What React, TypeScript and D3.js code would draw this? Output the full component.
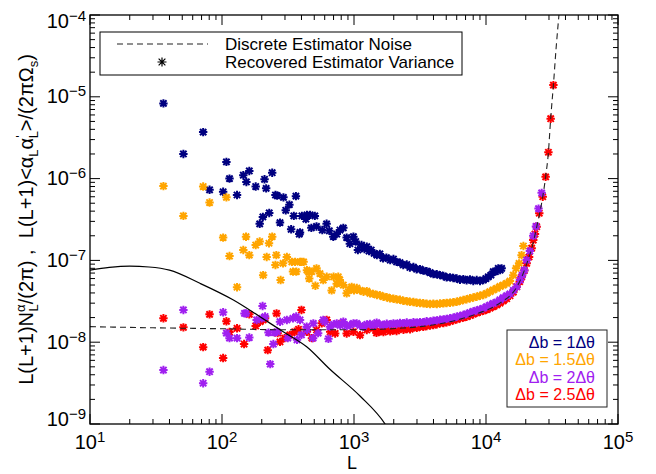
import { useRef, useEffect } from 'react';
import * as d3 from 'd3';

type Pt = [number, number];

// recovered estimator variance, one list per bin width
const navy: Pt[] = [
  [36, 8.3e-6], [51, 2.0e-6], [72, 3.7e-6], [80.5, 7.3e-7], [102, 6.9e-7], [108, 1.6e-6], [114, 1.0e-6],
  [130, 6.3e-7], [145, 1.1e-6], [153, 9.1e-7], [161, 1.24e-6], [180, 8.0e-7], [193, 2.8e-7], [204, 3.4e-7],
  [210, 9.8e-7], [216, 7.6e-7], [228, 3.8e-7], [240, 1.18e-6], [254, 6.3e-7], [262, 6.2e-7], [275, 2.9e-7],
  [292, 5.9e-7], [304, 4.1e-7], [324, 4.8e-7], [334, 2.4e-7], [350, 3.5e-7], [363, 6.1e-7], [385, 2.1e-7],
  [390, 2.2e-7], [403, 3.5e-7], [432, 3.2e-7], [440, 3.6e-7], [465, 3.6e-7], [475, 2.5e-7], [505, 3.5e-7],
  [520, 2.6e-7], [575, 2.35e-7], [620, 2.8e-7], [650, 2.3e-7], [697, 1.95e-7], [740, 2.1e-7], [783, 2.35e-7],
  [830, 2.5e-7], [880, 1.9e-7], [930, 1.6e-7], [990, 1.95e-7], [1030, 1.7e-7], [1070, 1.34e-7], [1140, 1.54e-7],
  [1200, 1.38e-7], [1250, 1.47e-7], [1300, 1.3e-7], [1350, 1.34e-7], [1420, 1.22e-7], [1490, 1.16e-7],
  [1570, 1.2e-7], [1660, 1.06e-7], [1760, 1.08e-7], [1880, 1.01e-7], [1990, 1.04e-7], [2100, 9.6e-8],
  [2230, 9.4e-8], [2360, 8.8e-8], [2510, 8.9e-8], [2650, 8.2e-8], [2820, 8.3e-8], [2980, 7.8e-8], [3160, 7.8e-8],
  [3350, 7.5e-8], [3550, 7.4e-8], [3770, 7.1e-8], [3990, 6.8e-8], [4240, 6.76e-8], [4480, 6.6e-8], [4760, 6.45e-8],
  [5030, 6.2e-8], [5340, 6.2e-8], [5650, 6.1e-8], [6000, 6.0e-8], [6350, 5.8e-8], [6730, 5.9e-8], [7130, 5.7e-8],
  [7560, 5.87e-8], [8010, 5.6e-8], [8500, 5.75e-8], [9010, 5.6e-8], [9550, 5.75e-8], [10000, 6.0e-8],
  [10400, 6.3e-8], [10900, 6.6e-8], [11350, 7.3e-8], [11800, 7.3e-8], [12380, 8.0e-8], [12800, 7.6e-8], [13140, 8.0e-8]
];

const orange: Pt[] = [
  [36, 8.1e-7], [51, 3.5e-7], [72, 8.0e-7], [80.5, 5.1e-7], [102, 1.9e-7], [108, 5.9e-7], [114, 1.13e-7],
  [130, 4.7e-8], [145, 1.34e-7], [152, 1.95e-7], [161, 1.16e-7], [180, 1.54e-7], [193, 1.7e-7], [205, 6.6e-8],
  [218, 1.1e-7], [227, 1.62e-7], [240, 1.95e-7], [254, 8.8e-8], [258, 1.16e-7], [278, 5.75e-8], [290, 9.2e-8],
  [310, 1.1e-7], [338, 9.6e-8], [345, 7.3e-8], [358, 9.6e-8], [366, 7.3e-8], [390, 9.6e-8], [400, 9.6e-8],
  [415, 9.6e-8], [440, 7.6e-8], [451, 7.3e-8], [458, 6.0e-8], [478, 7.3e-8], [510, 4.9e-8], [520, 8.0e-8],
  [552, 6.9e-8], [585, 5.75e-8], [621, 6.3e-8], [677, 4.3e-8], [700, 6.3e-8], [740, 5.2e-8], [760, 6.3e-8],
  [780, 5.75e-8], [830, 5.0e-8], [880, 3.96e-8], [920, 4.4e-8], [960, 4.75e-8], [1000, 4.3e-8], [1050, 4.6e-8],
  [1110, 4.3e-8], [1180, 4.14e-8], [1250, 4.2e-8], [1320, 3.96e-8], [1400, 3.9e-8], [1490, 3.78e-8],
  [1570, 3.75e-8], [1670, 3.6e-8], [1770, 3.55e-8], [1870, 3.44e-8], [1990, 3.4e-8], [2100, 3.34e-8],
  [2230, 3.3e-8], [2360, 3.21e-8], [2510, 3.18e-8], [2650, 3.12e-8], [2820, 3.1e-8], [2980, 3.04e-8],
  [3160, 3.02e-8], [3350, 2.99e-8], [3550, 2.95e-8], [3770, 2.93e-8], [3990, 2.95e-8], [4240, 2.93e-8],
  [4480, 2.97e-8], [4760, 2.99e-8], [5030, 3.02e-8], [5340, 3.04e-8], [5650, 3.08e-8], [6000, 3.12e-8],
  [6350, 3.2e-8], [6730, 3.28e-8], [7130, 3.35e-8], [7560, 3.44e-8], [8010, 3.52e-8], [8500, 3.6e-8],
  [9010, 3.7e-8], [9550, 3.78e-8], [10100, 3.95e-8], [10700, 4.14e-8], [11350, 4.35e-8], [12050, 4.56e-8],
  [12770, 4.8e-8], [13520, 5.0e-8], [14340, 5.25e-8], [15200, 5.6e-8], [16100, 6.6e-8], [16900, 8.0e-8],
  [17800, 9.2e-8], [18600, 1.16e-7], [19200, 1.5e-7]
];

const purple: Pt[] = [
  [36, 4.57e-9], [51, 2.48e-8], [72, 3.15e-9], [80.5, 4.36e-9], [102, 2.32e-8], [108, 1.29e-8], [114, 1.12e-8],
  [130, 1.12e-8], [148, 2.25e-8], [152, 2.25e-8], [161, 1.14e-8], [183, 1.87e-8], [200, 1.96e-8], [203, 2.77e-8],
  [212, 2.06e-8], [225, 1.31e-8], [232, 5.4e-9], [245, 9.5e-9], [250, 1.31e-8], [262, 1.34e-8], [275, 1.78e-8],
  [310, 1.87e-8], [315, 1.12e-8], [345, 1.96e-8], [365, 2.06e-8], [370, 1.07e-8], [390, 1.87e-8], [400, 1.23e-8],
  [438, 1.55e-8], [440, 1.41e-8], [490, 1.12e-8], [492, 1.7e-8], [535, 1.29e-8], [585, 1.87e-8], [600, 1.78e-8],
  [640, 1.1e-8], [657, 1.55e-8], [700, 1.65e-8], [740, 1.7e-8], [785, 1.6e-8], [830, 1.78e-8], [880, 1.58e-8],
  [933, 1.62e-8], [990, 1.7e-8], [1048, 1.7e-8], [1110, 1.6e-8], [1176, 1.55e-8], [1250, 1.65e-8],
  [1320, 1.67e-8], [1400, 1.6e-8], [1485, 1.73e-8], [1570, 1.65e-8], [1668, 1.62e-8], [1770, 1.68e-8],
  [1870, 1.65e-8], [1990, 1.7e-8], [2100, 1.67e-8], [2230, 1.72e-8], [2360, 1.7e-8], [2510, 1.74e-8],
  [2650, 1.7e-8], [2820, 1.75e-8], [2980, 1.73e-8], [3160, 1.76e-8], [3350, 1.75e-8], [3550, 1.8e-8],
  [3770, 1.78e-8], [3990, 1.83e-8], [4240, 1.85e-8], [4480, 1.88e-8], [4760, 1.9e-8], [5030, 1.93e-8],
  [5340, 1.96e-8], [5650, 2.0e-8], [6000, 2.05e-8], [6350, 2.1e-8], [6730, 2.15e-8], [7130, 2.22e-8],
  [7560, 2.3e-8], [8010, 2.38e-8], [8500, 2.45e-8], [9010, 2.52e-8], [9550, 2.6e-8], [10100, 2.72e-8],
  [10700, 2.85e-8], [11350, 2.98e-8], [12050, 3.1e-8], [12770, 3.3e-8], [13520, 3.5e-8], [14340, 3.7e-8],
  [15200, 3.9e-8], [16100, 4.3e-8], [17100, 4.77e-8], [18100, 5.75e-8], [18800, 6.6e-8], [19500, 7.6e-8],
  [20330, 1.01e-7], [21500, 1.3e-7], [22800, 2.0e-7], [23900, 2.6e-7], [25000, 4.3e-7], [26400, 6.7e-7]
];

const red: Pt[] = [
  [36, 1.96e-8], [51, 1.52e-8], [72, 8.7e-9], [80.5, 2.19e-8], [102, 6.4e-9], [108, 1.8e-8], [114, 1.33e-8],
  [130, 1.48e-8], [147, 9.5e-9], [161, 2.19e-8], [180, 1.58e-8], [194, 1.78e-8], [205, 1.87e-8], [212, 1.96e-8],
  [222, 8.0e-9], [259, 2.25e-8], [264, 1.29e-8], [275, 1.01e-8], [298, 1.12e-8], [326, 1.23e-8], [355, 1.34e-8],
  [380, 1.44e-8], [400, 2.48e-8], [440, 1.34e-8], [480, 1.12e-8], [520, 1.41e-8], [570, 1.7e-8], [621, 1.87e-8],
  [660, 1.34e-8], [720, 1.28e-8], [803, 1.7e-8], [880, 1.28e-8], [990, 1.34e-8], [1110, 1.22e-8],
  [1250, 1.41e-8], [1400, 1.48e-8], [1480, 1.3e-8], [1575, 1.38e-8], [1670, 1.33e-8], [1770, 1.45e-8],
  [1880, 1.36e-8], [1990, 1.4e-8], [2100, 1.37e-8], [2230, 1.47e-8], [2370, 1.42e-8], [2510, 1.45e-8],
  [2660, 1.44e-8], [2820, 1.52e-8], [2990, 1.5e-8], [3160, 1.55e-8], [3350, 1.54e-8], [3550, 1.58e-8],
  [3770, 1.6e-8], [3990, 1.62e-8], [4240, 1.66e-8], [4480, 1.7e-8], [4760, 1.72e-8], [5030, 1.75e-8],
  [5340, 1.8e-8], [5650, 1.85e-8], [6000, 1.9e-8], [6350, 1.96e-8], [6730, 2.0e-8], [7130, 2.05e-8],
  [7560, 2.12e-8], [8010, 2.2e-8], [8500, 2.28e-8], [9010, 2.36e-8], [9550, 2.42e-8], [10100, 2.5e-8],
  [10700, 2.6e-8], [11360, 2.72e-8], [12050, 2.85e-8], [12770, 3.0e-8], [13520, 3.2e-8], [14340, 3.4e-8],
  [15200, 3.7e-8], [16100, 4.1e-8], [17100, 4.77e-8], [18000, 5.5e-8], [18640, 6.3e-8], [19500, 7.5e-8],
  [20330, 9.2e-8], [21200, 1.1e-7], [22180, 1.41e-7], [22800, 1.77e-7], [23500, 2.1e-7], [24200, 2.58e-7],
  [25330, 3.77e-7], [26900, 6.0e-7], [28300, 1.05e-6], [29700, 2.1e-6], [30900, 5.4e-6], [32400, 1.39e-5]
];

// discrete estimator noise (dashed)
const noise: Pt[] = [
  [10, 1.55e-8], [30, 1.5e-8], [100, 1.46e-8], [300, 1.42e-8], [1000, 1.42e-8], [1600, 1.44e-8],
  [2200, 1.48e-8], [3200, 1.55e-8], [4500, 1.68e-8], [6300, 1.9e-8], [9000, 2.3e-8], [11400, 2.7e-8],
  [13500, 3.2e-8], [15200, 3.7e-8], [17100, 4.7e-8], [18600, 6.2e-8], [20300, 9.0e-8], [22200, 1.4e-7],
  [24200, 2.55e-7], [26900, 6.0e-7], [28300, 1.05e-6], [29700, 2.1e-6], [30900, 5.4e-6], [32400, 1.39e-5],
  [34000, 4.0e-5], [35700, 1.0e-4]
];

// solid curve
const signal: Pt[] = [
  [10, 7.6e-8], [14, 8.2e-8], [20, 8.5e-8], [28, 8.3e-8], [40, 7.6e-8], [68, 5.25e-8], [122, 3.28e-8],
  [194, 2.05e-8], [291, 1.34e-8], [438, 8.8e-9], [657, 4.67e-9], [1110, 2.2e-9], [1720, 1.0e-9], [2200, 5e-10]
];

const xExponents = [1, 2, 3, 4, 5];
const yExponents = [-9, -8, -7, -6, -5, -4];
const seriesLabels = ['Δb = 1Δθ', 'Δb = 1.5Δθ', 'Δb = 2Δθ', 'Δb = 2.5Δθ'];
const seriesColors = ['#000080', '#ffa500', '#a020f0', '#ff0000'];
const legendLabels = ['Discrete Estimator Noise', 'Recovered Estimator Variance'];

const FONT = "'Liberation Sans', Arial, Helvetica, sans-serif";

const star = (r: number) => {
  const d = r * 0.75;
  return `M${-r},0L${r},0M0,${-r}L0,${r}M${-d},${-d}L${d},${d}M${-d},${d}L${d},${-d}`;
};

const App = () => {
  const ref = useRef<SVGSVGElement>(null);

  useEffect(() => {
    const width = 656;
    const height = 474;
    const margin = { top: 15, right: 38, bottom: 50, left: 90 };

    const svg = d3.select(ref.current);
    svg.selectAll('*').remove();
    svg.attr('width', width).attr('height', height).style('font-family', FONT);

    const x = d3.scaleLog().domain([1e1, 1e5]).range([margin.left, width - margin.right]);
    const y = d3.scaleLog().domain([1e-9, 1e-4]).range([height - margin.bottom, margin.top]);
    const [x0, x1] = x.range();
    const [y0, y1] = y.range();

    svg.append('rect').attr('width', width).attr('height', height).attr('fill', '#fff');

    svg.append('clipPath').attr('id', 'plotclip')
      .append('rect').attr('x', x0).attr('y', y1).attr('width', x1 - x0).attr('height', y0 - y1);

    // data
    const sets = [navy, orange, red, purple];
    const setColors = [seriesColors[0], seriesColors[1], seriesColors[3], seriesColors[2]];
    sets.forEach((s, i) => {
      svg.append('g')
        .selectAll('path')
        .data(s)
        .enter().append('path')
        .attr('transform', d => `translate(${x(d[0])},${y(d[1])})`)
        .attr('d', star(4.2))
        .attr('stroke', setColors[i])
        .attr('stroke-width', 2)
        .attr('fill', 'none');
    });

    const line = d3.line<Pt>().x(d => x(d[0])).y(d => y(d[1])).curve(d3.curveMonotoneX);

    svg.append('path')
      .attr('clip-path', 'url(#plotclip)')
      .attr('d', line(signal))
      .attr('fill', 'none')
      .attr('stroke', '#000')
      .attr('stroke-width', 1.2);

    svg.append('path')
      .attr('clip-path', 'url(#plotclip)')
      .attr('d', line(noise))
      .attr('fill', 'none')
      .attr('stroke', '#222')
      .attr('stroke-width', 1.1)
      .attr('stroke-dasharray', '6,4');

    // axes box and ticks
    const axes = svg.append('g').attr('stroke', '#000').attr('stroke-width', 1);
    axes.append('rect')
      .attr('x', x0).attr('y', y1).attr('width', x1 - x0).attr('height', y0 - y1)
      .attr('fill', 'none').attr('stroke-width', 1.3);

    const xTicks: [number, number][] = [];
    xExponents.forEach(e => {
      xTicks.push([10 ** e, 10]);
      if (e < 5) for (let m = 2; m <= 9; m++) xTicks.push([m * 10 ** e, 5]);
    });
    xTicks.forEach(([v, len]) => {
      axes.append('line').attr('x1', x(v)).attr('x2', x(v)).attr('y1', y0).attr('y2', y0 - len);
      axes.append('line').attr('x1', x(v)).attr('x2', x(v)).attr('y1', y1).attr('y2', y1 + len);
    });

    const yTicks: [number, number][] = [];
    yExponents.forEach(e => {
      yTicks.push([10 ** e, 10]);
      if (e < -4) for (let m = 2; m <= 9; m++) yTicks.push([m * 10 ** e, 5]);
    });
    yTicks.forEach(([v, len]) => {
      axes.append('line').attr('x1', x0).attr('x2', x0 + len).attr('y1', y(v)).attr('y2', y(v));
      axes.append('line').attr('x1', x1).attr('x2', x1 - len).attr('y1', y(v)).attr('y2', y(v));
    });

    // tick labels
    xExponents.forEach(e => {
      const t = svg.append('text')
        .attr('x', x(10 ** e)).attr('y', 449)
        .attr('text-anchor', 'middle').attr('font-size', 20);
      t.append('tspan').text('10');
      t.append('tspan').attr('font-size', 15).attr('dy', -7).text(String(e));
    });

    yExponents.forEach(e => {
      const base = Math.min(Math.max(y(10 ** e) + 6.5, 27.5), 425.5);
      const t = svg.append('text')
        .attr('x', 86).attr('y', base)
        .attr('text-anchor', 'end').attr('font-size', 20);
      t.append('tspan').text('10');
      t.append('tspan').attr('font-size', 15).attr('dy', -7).text('\u2212' + Math.abs(e));
    });

    // axis titles
    svg.append('text')
      .attr('x', (x0 + x1) / 2 - 2).attr('y', 469)
      .attr('text-anchor', 'middle').attr('font-size', 18)
      .text('L');

    const yt = svg.append('text')
      .attr('transform', `translate(33,${(y0 + y1) / 2}) rotate(-90)`)
      .attr('text-anchor', 'middle').attr('font-size', 20)
      .style('white-space', 'pre');
    yt.append('tspan').text('L(L+1)N');
    yt.append('tspan').attr('font-size', 13).attr('dy', -8).text('α');
    yt.append('tspan').attr('font-size', 13).attr('dx', -7).attr('dy', 13).text('L');
    yt.append('tspan').attr('dy', -5).text('/(2π) ,  L(L+1)<α');
    yt.append('tspan').attr('font-size', 13).attr('dy', 5).text('L');
    yt.append('tspan').attr('dy', -5).text('α');
    yt.append('tspan').attr('font-size', 13).attr('dy', -8).text('\'');
    yt.append('tspan').attr('font-size', 13).attr('dx', -3).attr('dy', 13).text('L');
    yt.append('tspan').attr('dy', -5).text('>/(2πΩ');
    yt.append('tspan').attr('font-size', 13).attr('dy', 5).text('s');
    yt.append('tspan').attr('dy', -5).text(')');

    // top legend
    const lg = svg.append('g');
    lg.append('rect')
      .attr('x', 100).attr('y', 32).attr('width', 362).attr('height', 43)
      .attr('fill', '#fff').attr('stroke', '#000').attr('stroke-width', 1);
    lg.append('line')
      .attr('x1', 117).attr('x2', 208).attr('y1', 44).attr('y2', 44)
      .attr('stroke', '#222').attr('stroke-width', 1.1).attr('stroke-dasharray', '6,4');
    lg.append('path')
      .attr('transform', 'translate(162,62)')
      .attr('d', star(4.5))
      .attr('stroke', '#000').attr('stroke-width', 1.2).attr('fill', 'none');
    legendLabels.forEach((s, i) => {
      lg.append('text')
        .attr('x', 225).attr('y', 50 + i * 18)
        .attr('font-size', 17)
        .text(s);
    });

    // bin-width legend
    const bl = svg.append('g');
    bl.append('rect')
      .attr('x', 507).attr('y', 330).attr('width', 100).attr('height', 77)
      .attr('fill', '#fff').attr('stroke', '#222').attr('stroke-width', 1);
    seriesLabels.forEach((s, i) => {
      bl.append('text')
        .attr('x', 595).attr('y', 348 + i * 17.3)
        .attr('text-anchor', 'end').attr('font-size', 16)
        .attr('fill', seriesColors[i])
        .text(s);
    });
  }, []);

  return (
    <svg ref={ref} style={{ position: 'absolute', left: 0, top: 0 }}></svg>
  );
};

export default App;
